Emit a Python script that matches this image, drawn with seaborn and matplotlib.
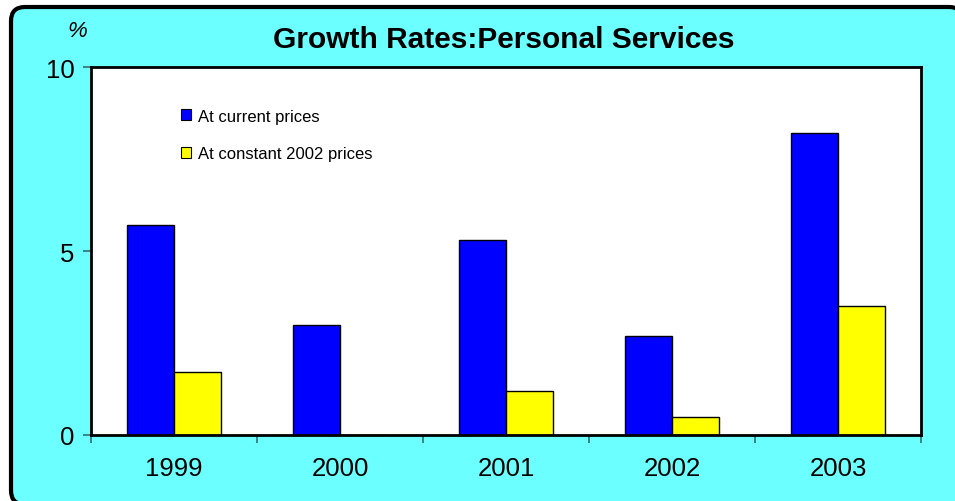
import matplotlib
matplotlib.use("Agg")
import matplotlib.pyplot as plt
from matplotlib.patches import FancyBboxPatch, Patch
import seaborn as sns
import pandas as pd

years = ["1999", "2000", "2001", "2002", "2003"]
current_prices = [5.7, 3.0, 5.3, 2.7, 8.2]
constant_2002_prices = [1.7, 0.0, 1.2, 0.5, 3.5]
series_names = ["At current prices", "At constant 2002 prices"]
y_ticks = [0, 5, 10]

sns.set_theme(style="white")
plt.rcParams["font.family"] = ["Liberation Sans", "DejaVu Sans"]
plt.rcParams["text.color"] = "black"
plt.rcParams["xtick.color"] = "black"
plt.rcParams["ytick.color"] = "black"

df = pd.DataFrame({
    "year": years * 2,
    "value": current_prices + constant_2002_prices,
    "series": [series_names[0]] * len(years) + [series_names[1]] * len(years),
})

blue = "#0000FF"
yellow = "#FFFF00"
cyan = "#6BFFFF"

fig = plt.figure(figsize=(9.55, 5.02), dpi=100, facecolor="white")

# rounded cyan chart frame, running off the right and bottom edges
frame = FancyBboxPatch((0.11, -0.035), 9.52, 4.975,
                       boxstyle="round,pad=0,rounding_size=0.14",
                       transform=fig.dpi_scale_trans,
                       facecolor=cyan, edgecolor="black", linewidth=3,
                       zorder=-5)
fig.patches.append(frame)

ax = fig.add_axes([0.0953, 0.1315, 0.8691, 0.733])
ax.set_facecolor("white")

sns.barplot(data=df, x="year", y="value", hue="series",
            palette=[blue, yellow], saturation=1, edgecolor="black",
            linewidth=1, width=0.57, gap=0, ax=ax, legend=False)

ax.set_xlim(-0.5, len(years) - 0.5)
ax.set_ylim(0, 10)
ax.set_yticks(y_ticks)
ax.set_yticklabels([str(t) for t in y_ticks], fontsize=18.5)
ax.set_xticks(range(len(years)))
ax.set_xticklabels(years, fontsize=18.5)
ax.set_xticks([i - 0.5 for i in range(len(years) + 1)], minor=True)
ax.tick_params(axis="x", which="major", length=0, pad=15)
ax.tick_params(axis="x", which="minor", length=6, width=1.2,
               color="#2F6F6F", direction="out", bottom=True)
ax.tick_params(axis="y", which="major", length=6, width=1.2,
               color="#2F6F6F", direction="out", left=True, pad=6)
ax.set_xlabel("")
ax.set_ylabel("")
for side in ["left", "right", "top", "bottom"]:
    ax.spines[side].set_visible(True)
    ax.spines[side].set_color("black")
    ax.spines[side].set_linewidth(2)

handles = [Patch(facecolor=blue, edgecolor="black", linewidth=0.8),
           Patch(facecolor=yellow, edgecolor="black", linewidth=0.8)]
ax.legend(handles, series_names, loc="upper left",
          bbox_to_anchor=(0.1, 0.905), frameon=False, fontsize=12,
          handlelength=0.6, handleheight=0.6, handletextpad=0.45,
          labelspacing=1.35, borderaxespad=0)

fig.text(0.528, 0.921, "Growth Rates:Personal Services", ha="center",
         va="center", fontsize=21.5, fontweight="bold")
fig.text(0.081, 0.937, "%", ha="center", va="center", fontsize=16,
         style="italic")

fig.savefig("out.png", dpi=100, facecolor="white")
